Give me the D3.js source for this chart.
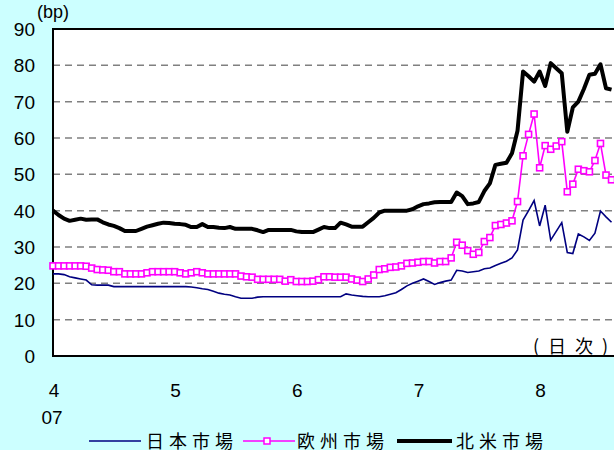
<!DOCTYPE html>
<html>
<head>
<meta charset="utf-8">
<script src="https://cdn.jsdelivr.net/npm/d3@7"></script>
<style>
body { margin:0; background:#ccffff; overflow:hidden; }
svg { display:block; font-family:"Liberation Sans", Arial, sans-serif; }
.grid line { stroke:#808080; stroke-width:1.5px; stroke-dasharray:7,5; }
.lbl { font-size:19px; fill:#000; }
.jp { font-family:"Noto Sans CJK JP", sans-serif; font-size:18px; letter-spacing:5px; }
</style>
</head>
<body>
<svg width="614" height="450"></svg>
<script>

// 日次データ（営業日ごと、2007年4月初～8月中旬）
var japan = [22.6,22.6,22.4,21.8,21.5,21.2,20.9,19.6,19.5,19.5,
	19.5,19.1,19.1,19.1,19.1,19.1,19.1,19.1,19.1,19.1,
	19.1,19.1,19.1,19.1,19.1,19.0,18.8,18.5,18.3,17.8,
	17.3,17.0,16.8,16.3,15.9,15.9,15.9,16.2,16.3,16.3,
	16.3,16.3,16.3,16.3,16.3,16.3,16.3,16.3,16.3,16.3,
	16.3,16.3,16.3,17.1,16.8,16.6,16.4,16.3,16.3,16.3,
	16.6,17.0,17.4,18.3,19.3,20.0,20.6,21.2,20.5,19.7,
	20.2,20.6,20.9,23.6,23.4,23.0,23.2,23.4,24.0,24.2,
	24.9,25.5,26.1,27.0,29.2,37.4,40.0,42.8,35.8,41.5,
	31.9,34.3,36.7,28.5,28.2,33.6,32.8,31.8,33.8,39.9,
	38.3,36.8];

var europe = [24.8,24.8,24.8,24.8,24.8,24.8,24.7,24.2,23.8,23.7,
	23.6,23.2,23.2,22.6,22.6,22.6,22.6,22.9,23.2,23.2,
	23.2,23.2,23.2,22.9,22.6,22.9,23.2,22.9,22.6,22.6,
	22.6,22.6,22.6,22.6,22.0,21.8,21.7,21.1,21.1,21.1,
	21.1,21.1,20.6,21.0,20.5,20.5,20.5,20.6,21.0,21.8,
	21.8,21.7,21.7,21.7,21.2,20.9,20.5,21.2,22.3,23.8,
	24.0,24.4,24.5,24.8,25.5,25.6,25.8,26.0,26.0,25.6,
	26.0,26.0,27.0,31.3,30.5,29.0,28.0,28.5,31.5,32.6,
	35.9,36.2,36.6,37.2,42.5,55.1,61.0,66.6,51.8,57.9,
	56.9,57.8,59.0,45.2,47.3,51.4,51.0,50.7,53.8,58.5,
	49.8,48.5];

var namerica = [40.0,38.8,37.8,37.2,37.5,37.8,37.5,37.6,37.6,36.8,
	36.2,35.8,35.2,34.4,34.4,34.4,35.0,35.6,36.0,36.4,
	36.7,36.6,36.4,36.3,36.1,35.5,35.5,36.3,35.5,35.5,
	35.3,35.2,35.5,35.0,35.0,35.0,35.0,34.6,34.1,34.7,
	34.7,34.7,34.7,34.7,34.3,34.1,34.1,34.1,34.8,35.5,
	35.2,35.2,36.7,36.2,35.6,35.6,35.6,36.8,38.0,39.5,
	40.0,40.0,40.0,40.0,40.0,40.4,41.2,41.8,42.0,42.3,
	42.4,42.4,42.4,45.0,44.0,41.8,42.0,42.4,45.4,47.5,
	52.6,52.9,53.2,55.8,62.0,78.3,77.0,75.5,78.3,74.3,
	80.6,79.2,77.8,61.7,68.4,70.0,73.5,77.4,77.7,80.3,
	73.7,73.3];

// 月の目盛り（営業日インデックス）
var monthTicks = [0, 22, 44, 66, 88];
var monthLabels = ["4", "5", "6", "7", "8"];
var yearLabel = "07";
var yTicks = [0,10,20,30,40,50,60,70,80,90];

var seriesNames = ["日本市場", "欧州市場", "北米市場"];

var svg = d3.select("svg");
var plotLeft = 53, plotTop = 29, plotBottom = 356, plotRight = 53 + 5.53 * 110;

var x = d3.scaleLinear().domain([0, 110]).range([plotLeft, plotRight]);
var y = d3.scaleLinear().domain([0, 90]).range([plotBottom, plotTop]);

// title (cut off at top of the picture)
svg.append("text").attr("x", 350).attr("y", -4).attr("text-anchor", "middle")
	.attr("class", "jp").style("font-size", "20px")
	.text("クレジット・デフォルト・スワップ指数の推移");

// plot area
svg.append("rect").attr("x", plotLeft).attr("y", plotTop)
	.attr("width", plotRight - plotLeft).attr("height", plotBottom - plotTop).attr("fill", "#fff");

svg.append("g").attr("class", "grid").selectAll("line")
	.data(yTicks.filter(function(d){ return d > 0 && d < 90; }))
	.enter().append("line")
	.attr("x1", plotLeft).attr("x2", plotRight)
	.attr("y1", function(d){ return y(d); }).attr("y2", function(d){ return y(d); });

svg.append("path")
	.attr("d", "M" + plotRight + "," + plotTop + "H" + plotLeft + "V" + plotBottom + "H" + plotRight)
	.attr("fill", "none").attr("stroke", "#000").attr("stroke-width", 2);

// y tick labels
svg.append("g").selectAll("text").data(yTicks).enter().append("text")
	.attr("class", "lbl").attr("x", 35).attr("y", function(d){ return y(d) + 7; })
	.attr("text-anchor", "end").text(function(d){ return d; });

svg.append("text").attr("class", "lbl").style("font-size", "18px")
	.attr("x", 37).attr("y", 18).text("(bp)");

// x labels
svg.append("g").selectAll("text").data(monthTicks).enter().append("text")
	.attr("class", "lbl").attr("x", function(d){ return x(d) + 1; }).attr("y", 397)
	.attr("text-anchor", "middle").text(function(d, i){ return monthLabels[i]; });
svg.append("text").attr("class", "lbl").attr("x", x(0) - 1).attr("y", 424)
	.attr("text-anchor", "middle").text(yearLabel);

svg.append("text").attr("class", "jp").attr("x", 533).attr("y", 353)
	.style("letter-spacing", "9px").text("(日次)");

// lines
var line = d3.line()
	.x(function(d, i){ return x(i); })
	.y(function(d){ return y(d); });

var plot = svg.append("g");

plot.append("path").datum(japan).attr("d", line)
	.attr("fill", "none").attr("stroke", "#000080").attr("stroke-width", 1.6);

plot.append("path").datum(europe).attr("d", line)
	.attr("fill", "none").attr("stroke", "#ff00ff").attr("stroke-width", 1.6);

plot.selectAll("rect.eu").data(europe).enter().append("rect")
	.attr("class", "eu")
	.attr("x", function(d, i){ return x(i) - 3; })
	.attr("y", function(d){ return y(d) - 3; })
	.attr("width", 6).attr("height", 6)
	.attr("fill", "#fff").attr("stroke", "#ff00ff").attr("stroke-width", 1.6);

plot.append("path").datum(namerica).attr("d", line)
	.attr("fill", "none").attr("stroke", "#000").attr("stroke-width", 4)
	.attr("stroke-linejoin", "round");

// legend
var legend = svg.append("g");
var ly = 441;
legend.append("line").attr("x1", 89).attr("x2", 141).attr("y1", ly).attr("y2", ly)
	.attr("stroke", "#000080").attr("stroke-width", 1.6);
legend.append("text").attr("class", "jp").attr("x", 146).attr("y", ly + 7).text(seriesNames[0]);

legend.append("line").attr("x1", 243).attr("x2", 295).attr("y1", ly).attr("y2", ly)
	.attr("stroke", "#ff00ff").attr("stroke-width", 1.6);
legend.append("rect").attr("x", 264).attr("y", ly - 3).attr("width", 6).attr("height", 6)
	.attr("fill", "#fff").attr("stroke", "#ff00ff").attr("stroke-width", 1.5);
legend.append("text").attr("class", "jp").attr("x", 297).attr("y", ly + 7).text(seriesNames[1]);

legend.append("line").attr("x1", 397).attr("x2", 452).attr("y1", ly).attr("y2", ly)
	.attr("stroke", "#000").attr("stroke-width", 4);
legend.append("text").attr("class", "jp").attr("x", 456).attr("y", ly + 7).text(seriesNames[2]);

</script>
</body>
</html>
